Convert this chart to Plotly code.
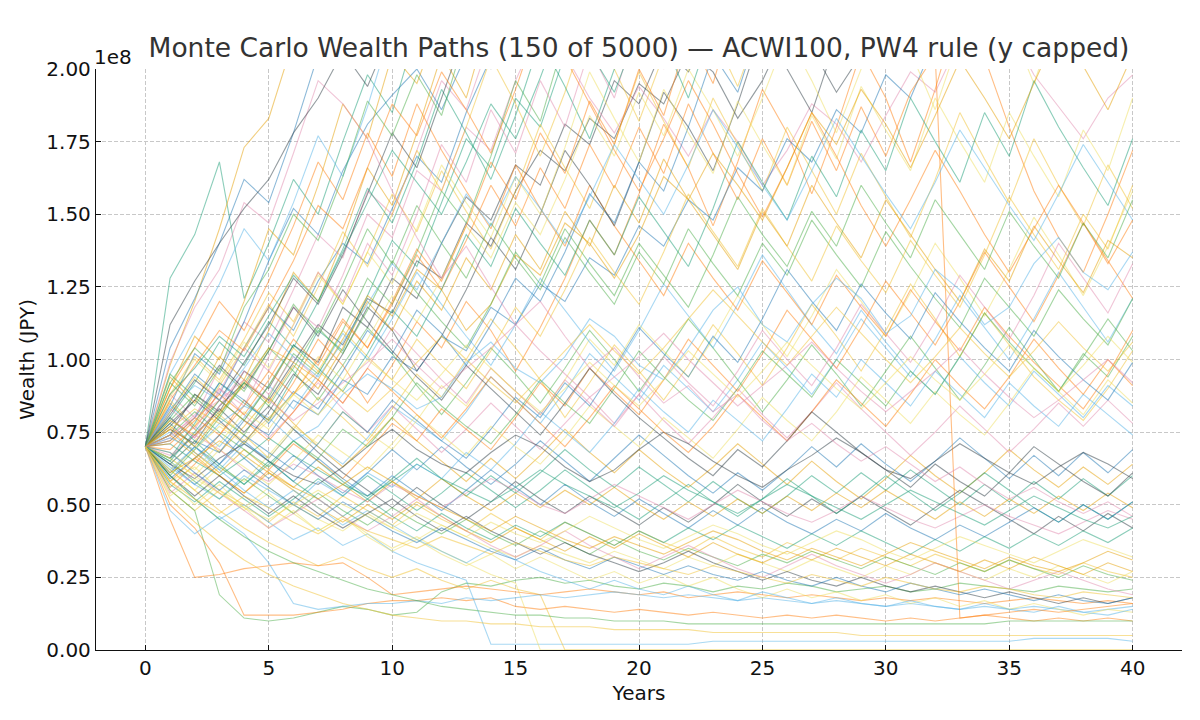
import plotly.graph_objects as go

# Wealth paths in millions of JPY, years 0..40
years = list(range(41))

paths_high = [
    [70,82,95,88,104,118,110,127,140,133,152,170,161,185,204,220,238,226,251,270,262,280,300,290,310,330,350,340,360,380,400,420,410,430,450,470,460,490,510,530,550],
    [70,76,71,84,92,86,99,112,105,121,116,134,128,147,139,158,172,165,183,176,195,188,206,199,183,196,214,207,192,205,222,240,231,219,236,252,244,262,255,271,290],
    [70,88,80,97,113,106,124,143,135,158,150,172,196,186,211,240,228,255,280,300,320,310,335,360,350,380,400,390,420,440,430,460,480,470,500,520,510,540,560,550,580],
    [70,128,143,168,121,140,162,150,175,198,185,214,230,220,245,260,250,275,290,280,300,320,310,330,350,340,360,380,370,390,410,400,420,440,430,450,470,460,480,500,490],
    [70,98,120,145,173,183,210,230,250,240,270,290,280,300,320,310,340,360,350,380,400,390,410,430,420,450,470,460,480,500,490,520,540,530,560,580,570,600,620,610,640],
    [70,84,102,95,113,134,152,143,165,181,191,200,186,205,220,214,235,250,244,262,280,270,290,310,300,320,340,330,350,370,360,380,400,390,410,430,420,440,460,450,470],
    [70,74,88,82,96,90,105,99,118,111,128,121,140,156,148,167,160,181,174,196,188,208,199,215,206,224,240,232,218,237,255,246,231,250,268,259,243,262,281,272,295],
    [70,80,73,90,84,101,118,111,129,150,142,165,158,180,172,196,215,205,190,178,194,183,170,186,175,160,172,188,181,168,184,199,192,210,225,214,198,187,176,190,198],
    [70,66,78,92,85,79,94,110,103,122,141,132,154,176,166,190,180,205,228,216,240,262,250,275,300,288,310,296,320,345,330,355,380,365,390,415,400,425,450,440,470],
    [70,90,108,100,120,145,136,160,188,176,205,195,218,240,226,250,236,260,285,270,295,280,305,330,315,340,325,350,375,360,385,370,395,420,405,430,415,440,465,450,475],
    [70,64,72,68,79,74,86,81,93,88,101,96,108,103,118,112,126,120,135,129,146,139,155,148,166,158,176,168,186,178,198,190,210,202,222,214,235,226,248,240,262],
    [70,78,86,79,71,82,95,88,102,118,110,96,108,124,142,131,150,172,160,146,168,192,180,165,188,214,200,185,210,236,222,205,230,256,240,222,248,275,258,240,268],
    [70,60,69,80,74,87,102,95,110,128,119,137,158,147,170,196,182,210,240,225,255,285,268,300,330,312,345,380,360,395,430,410,445,480,460,495,530,510,545,580,560],
    [70,72,80,92,86,78,89,83,96,110,102,117,109,98,112,128,120,137,157,147,168,158,180,205,192,218,205,232,218,245,230,258,242,270,254,282,265,295,278,310,292],
    [70,86,77,91,104,119,108,125,144,132,150,172,158,180,204,188,170,192,218,200,182,205,230,212,194,218,245,226,205,230,258,236,214,240,268,246,222,250,280,256,230],
    [70,94,85,101,93,110,130,120,141,166,153,178,205,190,220,252,235,268,300,280,315,350,330,365,400,380,415,450,430,470,510,490,530,570,550,590,630,610,650,690,670],
    [70,68,62,71,82,76,88,101,93,107,122,113,128,146,135,154,143,162,184,170,192,177,200,186,170,190,212,196,178,200,224,206,186,210,236,216,195,220,248,226,204],
    [70,80,92,106,98,113,104,120,138,159,147,168,193,178,162,184,210,194,176,200,228,210,190,216,246,226,204,232,264,242,218,248,282,258,232,262,296,270,242,274,310],
    [70,95,110,126,145,134,154,177,163,187,215,200,230,260,245,275,310,290,325,360,340,375,410,390,430,470,450,490,530,510,550,590,570,610,650,630,670,710,690,730,770],
    [70,83,76,89,104,96,112,130,120,140,129,150,174,161,186,171,196,180,207,190,218,200,230,212,244,224,258,237,272,250,288,265,305,280,322,296,340,313,360,330,380],
    [70,71,79,88,81,93,107,98,113,104,120,138,127,146,168,155,178,164,189,174,200,184,212,195,224,206,237,218,251,231,266,245,282,259,298,274,315,290,334,307,353],
    [70,81,93,86,99,112,128,119,136,157,178,166,190,214,200,226,252,240,268,300,285,310,340,330,360,390,375,405,440,420,455,490,470,505,540,520,560,600,580,620,660],
    [70,92,104,96,118,131,150,141,163,189,177,198,184,212,241,226,258,245,281,265,300,285,320,305,345,330,370,355,395,380,420,405,445,430,470,455,495,480,520,505,545],
    [70,104,121,140,162,154,178,205,232,220,250,282,268,300,335,320,355,395,380,420,460,440,480,520,500,540,580,560,600,640,620,660,700,680,720,760,740,780,820,800,840],
    [70,88,97,108,101,115,129,120,137,154,172,161,150,168,188,176,197,220,206,192,214,238,222,206,229,255,238,220,245,272,254,235,261,290,270,250,278,309,288,267,296],
    [70,112,127,140,152,162,178,190,206,194,214,236,222,248,275,258,286,316,298,330,365,345,380,420,400,440,485,460,505,550,525,570,620,595,645,700,670,725,780,750,800],
    [70,79,74,82,91,104,99,93,107,122,115,131,124,110,119,136,129,147,140,128,143,163,155,171,160,148,166,185,174,193,181,166,184,203,190,176,195,214,201,186,205],
]

paths_mid = [
    [70,56,64,74,86,79,92,107,98,85,98,113,104,120,110,96,111,128,148,136,157,181,166,146,168,193,178,157,180,206,190,168,193,222,204,180,158,142,130,150,172],
    [70,75,68,62,71,66,76,70,64,73,84,78,72,82,94,86,78,89,102,94,86,98,90,82,93,106,97,88,100,114,104,94,107,122,111,100,114,130,118,106,121],
    [70,62,55,63,58,67,77,71,82,75,69,79,91,84,97,89,81,93,107,98,112,103,94,107,122,112,101,115,131,120,108,123,140,128,115,131,149,136,122,139,158],
    [70,64,72,81,74,66,76,87,80,72,83,95,87,100,114,104,93,80,92,105,96,86,98,112,102,91,104,119,108,96,110,126,114,101,116,105,94,86,79,90,103],
    [70,79,88,81,92,104,96,86,98,111,102,91,81,92,104,95,85,97,110,100,89,101,114,104,93,82,93,105,95,84,96,108,97,86,98,111,100,89,101,114,103],
    [70,58,66,60,54,62,71,65,59,68,78,72,83,76,69,80,92,84,97,89,81,93,107,98,89,102,117,107,97,111,127,116,105,120,137,125,113,129,147,134,121],
    [70,84,77,70,80,91,83,95,109,100,114,130,119,108,98,112,128,117,106,96,110,126,115,104,119,136,124,112,102,117,106,96,88,101,92,84,96,88,80,91,84],
    [70,66,60,69,63,57,65,74,68,62,71,81,74,67,77,70,64,73,84,77,70,80,73,66,76,87,79,72,82,94,86,78,89,81,74,85,97,89,81,93,85],
    [70,88,101,93,107,123,113,130,119,137,157,144,165,151,138,158,181,166,152,174,199,182,166,190,174,158,180,165,150,171,156,142,162,185,169,154,176,160,146,167,152],
    [70,74,82,75,69,63,72,66,76,70,80,92,84,77,71,81,93,85,78,90,103,94,86,79,90,103,95,87,100,92,84,96,88,101,116,106,97,89,102,94,108],
    [70,90,104,120,110,127,146,168,155,178,163,188,172,158,145,167,152,139,160,146,134,122,140,128,117,134,123,112,129,118,108,124,113,103,118,108,99,91,83,95,110],
    [70,63,57,52,60,55,50,58,53,61,56,64,59,68,62,71,82,75,68,78,90,82,75,86,79,72,83,95,87,100,92,84,96,88,80,92,84,77,88,81,74],
    [70,80,73,84,96,88,101,93,85,97,111,102,93,85,97,89,81,93,85,77,88,101,92,84,96,110,100,91,104,119,109,99,113,129,118,107,122,140,128,116,133],
    [70,69,77,86,79,72,82,93,85,97,89,81,73,83,94,86,78,70,80,91,83,75,68,77,88,80,72,82,93,85,77,88,100,91,83,94,107,97,88,100,91],
    [70,77,86,98,90,103,118,108,124,113,103,94,86,98,90,82,74,85,97,88,80,73,66,60,69,63,72,82,75,68,62,56,64,58,53,61,70,64,58,53,61],
    [70,92,84,97,89,103,119,109,126,145,133,153,140,128,147,135,124,142,130,119,137,126,145,133,122,140,129,148,136,125,144,132,121,111,128,118,108,124,114,105,121],
    [70,61,70,64,74,68,62,71,82,75,86,79,72,66,76,87,80,92,84,97,111,102,94,108,99,114,131,120,110,126,116,107,123,113,104,96,110,101,93,86,99],
    [70,82,94,86,79,91,104,96,110,101,93,107,98,90,103,118,108,124,142,130,119,137,157,144,132,152,139,127,146,134,123,141,129,118,136,156,143,131,150,138,160],
    [70,77,70,81,93,85,98,90,104,120,110,127,117,135,124,143,131,151,139,160,147,169,155,143,131,151,139,160,147,135,155,143,131,120,138,127,146,134,123,141,135],
    [70,87,100,92,106,97,112,129,119,137,126,145,167,154,142,163,150,173,199,183,168,193,178,164,189,174,160,184,169,194,179,165,190,175,161,185,170,156,179,165,190],
    [70,65,75,86,79,91,105,97,89,102,117,108,124,143,132,152,140,129,148,136,156,144,132,152,175,161,148,170,156,179,165,190,175,161,185,170,196,180,166,153,176],
    [70,73,69,78,84,80,72,77,88,95,90,83,87,99,106,97,92,101,114,108,98,93,104,117,125,112,106,119,128,121,109,115,131,124,112,118,133,142,130,124,137],
    [70,99,118,131,154,147,171,196,188,176,158,142,128,139,125,112,120,108,97,104,94,85,91,82,88,79,72,78,71,65,70,64,58,63,57,52,56,51,47,51,46],
    [70,86,98,110,103,118,134,153,145,166,188,177,199,186,171,193,218,204,188,172,158,176,196,181,164,149,166,185,170,153,139,155,172,158,143,130,145,160,147,133,148],
    [70,76,83,78,72,80,88,96,89,82,90,99,108,100,92,85,94,103,112,103,95,104,114,124,115,106,98,108,118,109,100,92,101,111,102,94,103,113,104,96,106],
    [70,83,91,86,97,109,101,94,106,119,133,124,140,157,146,163,152,140,156,174,162,150,167,186,173,160,148,165,183,170,157,145,161,179,166,153,141,157,174,161,148],
    [70,95,87,80,92,84,97,111,102,117,134,123,113,104,119,137,126,145,133,122,140,129,118,136,156,143,132,151,139,160,147,135,155,143,131,151,139,128,147,135,155],
    [70,74,80,86,93,86,79,85,92,99,107,98,90,97,104,112,103,95,87,94,101,109,100,92,84,91,98,106,97,89,82,89,96,104,95,87,80,86,93,100,92],
    [70,62,69,77,71,79,88,81,90,100,93,86,95,105,97,89,82,90,99,91,84,93,103,95,87,96,106,98,90,83,92,101,93,86,95,105,97,89,98,108,99],
]

paths_lowmid = [
    [70,78,70,63,57,64,72,65,58,52,59,66,59,53,60,54,61,69,62,56,63,57,51,58,52,47,53,60,54,61,55,62,56,50,57,51,58,52,59,53,60],
    [70,85,76,68,77,87,78,70,63,71,80,72,65,58,66,59,67,76,68,61,69,62,56,63,71,64,57,65,58,52,59,67,60,54,61,69,62,56,63,57,64],
    [70,59,66,74,66,59,67,60,54,61,69,62,70,63,57,64,72,65,58,66,74,67,60,54,61,55,62,70,63,71,64,58,65,73,66,59,67,60,68,61,69],
    [70,66,74,83,75,84,76,68,61,55,49,56,50,45,51,58,52,47,53,48,43,49,44,50,57,51,46,52,47,53,48,43,49,55,50,45,40,46,41,47,42],
    [70,73,81,90,81,73,82,92,83,75,84,76,68,76,85,77,69,78,87,78,88,79,71,80,90,81,73,82,92,83,75,67,75,84,76,68,76,85,77,86,78],
    [70,57,51,58,52,46,52,59,53,60,54,48,54,61,55,49,55,62,56,50,45,51,57,51,46,52,59,53,47,53,60,54,48,54,61,55,49,44,50,45,51],
    [70,76,68,61,69,62,56,63,57,51,58,52,59,53,48,54,49,55,50,56,50,45,51,46,52,47,53,48,54,49,55,50,45,51,46,52,47,53,48,54,49],
    [70,64,57,64,72,65,58,66,59,53,60,54,48,55,62,56,50,57,51,46,52,47,42,48,43,49,44,40,45,41,47,42,38,43,39,44,49,44,50,45,51],
    [70,64,59,66,71,65,60,57,63,70,76,69,64,61,68,74,70,63,58,62,69,75,71,65,60,56,62,67,73,68,62,59,65,71,66,61,57,63,68,64,59],
    [70,67,74,69,62,58,64,60,55,51,57,53,49,54,59,55,50,47,52,57,53,49,45,50,55,51,47,44,48,53,49,45,42,46,50,46,43,40,44,48,45],
    [70,71,65,60,66,73,67,62,57,53,58,64,59,55,51,56,62,57,53,49,54,60,55,51,47,52,57,53,49,45,50,55,51,47,43,48,53,49,45,42,46],
]

paths_low = [
    [70,55,48,55,50,44,51,46,53,48,43,50,45,41,47,42,38,44,40,36,41,37,34,39,35,32,37,34,31,35,32,29,33,30,27,31,28,26,30,27,25],
    [70,55,48,19,11,10,11,13,15,14,12,13,20,23,22,24,25,23,24,22,21,23,22,20,22,21,23,22,20,21,22,20,21,23,22,21,20,22,21,20,21],
    [70,50,42,30,12,12,12,13,14,16,17,17,18,17,18,15,14,15,14,13,14,13,12,13,12,11,12,11,12,11,10,11,10,11,12,11,10,11,10,11,10],
    [70,60,52,45,50,44,38,42,36,40,34,30,27,24,2,2,2,2,2,2,2,2,2,3,3,3,3,3,3,3,3,3,3,3,3,3,4,4,4,4,3],
    [70,58,63,55,48,54,47,41,46,40,35,39,34,30,26,23,0,0,0,0,0,0,0,0,0,0,0,0,0,0,0,0,0,0,0,0,0,0,0,0,0],
    [70,62,55,48,42,37,33,29,32,28,25,28,24,21,24,21,19,0,0,0,0,0,0,0,0,0,0,0,0,0,0,0,0,0,0,0,0,0,0,0,0],
    [70,65,58,52,59,53,47,54,48,43,49,44,40,45,40,36,41,37,33,38,34,31,35,32,29,33,30,34,31,28,32,29,26,30,27,31,28,25,29,26,24],
    [70,45,25,26,28,29,30,29,30,25,19,20,21,22,21,20,19,20,21,20,19,20,18,19,20,19,18,19,18,17,18,17,18,17,16,17,18,17,16,17,16],
    [70,48,40,46,40,30,16,14,15,16,16,17,16,18,17,18,19,18,19,20,19,18,19,18,17,18,17,16,17,16,15,16,15,14,15,14,15,14,13,14,15],
    [70,66,60,54,49,56,50,45,41,47,42,38,43,39,35,32,36,33,30,34,31,28,32,29,33,30,27,31,28,25,29,26,30,27,24,28,25,29,26,23,27],
    [70,52,44,37,31,26,22,19,16,14,12,11,10,10,9,9,8,8,8,7,7,7,7,6,6,6,6,6,6,5,5,5,5,5,5,5,5,5,5,5,5],
    [70,74,67,60,54,61,55,49,44,50,45,51,46,41,37,42,38,34,39,35,40,36,32,37,33,30,34,31,35,32,29,33,30,27,31,28,32,29,26,30,27],
    [70,58,50,57,49,42,48,41,46,39,34,38,33,29,33,28,32,28,24,27,23,26,22,25,21,18,21,18,20,17,19,16,18,15,17,14,16,14,12,14,13],
    [70,80,72,64,57,65,58,52,46,52,46,41,47,42,38,43,39,44,40,36,41,37,42,38,43,39,35,40,36,41,37,33,38,34,39,35,40,36,41,37,42],
    [70,62,70,62,55,49,55,49,43,48,43,38,34,30,35,31,27,24,21,24,21,19,22,19,17,20,18,16,18,16,15,17,15,14,16,14,13,15,13,12,14],
    [70,54,61,54,48,42,47,52,46,41,46,52,46,41,36,32,36,41,36,32,28,32,36,32,28,25,29,33,29,26,23,26,30,27,24,21,24,27,24,21,19],
    [70,72,80,74,84,96,88,100,114,104,119,136,124,141,160,146,166,152,174,159,180,164,188,171,155,176,160,182,165,187,170,192,205,11,12,13,14,13,14,15,16],
    [70,60,53,60,53,47,53,47,42,47,52,46,41,46,41,37,33,37,33,30,27,30,34,30,27,24,27,24,22,25,22,20,22,20,18,20,18,16,18,16,18],
    [70,60,52,45,39,34,30,27,24,21,19,17,15,14,13,12,12,11,11,10,10,10,9,9,9,9,9,9,9,9,9,9,9,9,9,10,10,10,10,10,10],
    [70,68,61,55,62,56,50,45,51,46,41,37,42,38,34,31,35,31,28,32,29,26,29,26,24,27,24,22,25,22,20,23,21,19,21,19,17,19,17,16,18],
    [70,58,52,47,53,49,44,40,45,41,38,35,39,36,33,37,34,31,29,32,30,28,26,29,27,25,23,26,24,22,25,23,21,20,22,21,19,18,20,19,18],
    [70,61,66,72,67,61,56,52,57,63,58,53,49,45,41,46,42,38,35,39,36,33,37,41,38,34,31,35,32,29,33,37,34,31,28,32,29,27,30,34,31],
    [70,53,59,54,49,45,50,55,50,46,42,47,43,39,44,40,37,41,46,42,38,35,39,43,40,36,33,37,41,38,34,31,35,39,36,33,30,34,38,35,32],
]

ytick_vals = [0, 25, 50, 75, 100, 125, 150, 175, 200]
ytick_labels = ["0.00", "0.25", "0.50", "0.75", "1.00", "1.25", "1.50", "1.75", "2.00"]
xtick_vals = [0, 5, 10, 15, 20, 25, 30, 35, 40]

# muted cycle: blue, orange, teal, gold, slate, light blue, amber, green, pink, pale yellow
palette = ['#1f77b4', '#ff7f0e', '#1b9e77', '#f2c230', '#2f3e46',
           '#56b4e9', '#e69f00', '#4daf4a', '#e38cb0', '#f0e060']

# interleave the groups so the colour cycle is mixed like the original
groups = [paths_high, paths_mid, paths_lowmid, paths_low]
all_paths = []
longest = max(len(g) for g in groups)
for i in range(longest):
    for g in groups:
        if i < len(g):
            all_paths.append(g[i])

fig = go.Figure()
for i, p in enumerate(all_paths):
    fig.add_trace(go.Scatter(
        x=years,
        y=[v * 1e6 for v in p],
        mode='lines',
        line=dict(color=palette[i % 10], width=1.1),
        opacity=0.5,
        hoverinfo='skip',
    ))

font_name = 'DejaVu Sans'

# page body adds an 8px offset, so the figure is sized 1192x712
fig.update_layout(
    width=1192,
    height=712,
    autosize=False,
    showlegend=False,
    paper_bgcolor='white',
    plot_bgcolor='white',
    margin=dict(l=88, r=18, t=61, b=70),
    font=dict(family=font_name, size=20, color='#111111'),
    title=dict(
        text='Monte Carlo Wealth Paths (150 of 5000) — ACWI100, PW4 rule (y capped)',
        font=dict(family=font_name, size=26.5, color='#333333'),
        x=0.5, xref='paper', xanchor='center',
        y=0.944, yref='container', yanchor='middle',
    ),
)

fig.update_xaxes(
    range=[-2, 42],
    tickvals=xtick_vals,
    automargin=False,
    showgrid=True, gridcolor='#c8c8c8', griddash='4px,2px', gridwidth=1,
    showline=True, linecolor='#111111', linewidth=1.3,
    ticks='inside', ticklen=5, tickcolor='#111111',
    zeroline=False,
    title=dict(text='Years', standoff=6, font=dict(size=20)),
)
fig.update_yaxes(
    range=[0, 200e6],
    tickvals=[v * 1e6 for v in ytick_vals],
    ticktext=ytick_labels,
    automargin=False,
    showgrid=True, gridcolor='#c8c8c8', griddash='4px,2px', gridwidth=1,
    showline=True, linecolor='#111111', linewidth=1.3,
    ticks='inside', ticklen=5, tickcolor='#111111',
    zeroline=False,
    title=dict(text='Wealth (JPY)', standoff=6, font=dict(size=20)),
)

# matplotlib-style offset label
fig.add_annotation(
    text='1e8', xref='paper', yref='paper', x=0, y=1,
    xanchor='left', yanchor='bottom', showarrow=False,
    font=dict(family=font_name, size=20, color='#111111'),
    xshift=-4, yshift=-2,
)

fig.write_html("out.html")
